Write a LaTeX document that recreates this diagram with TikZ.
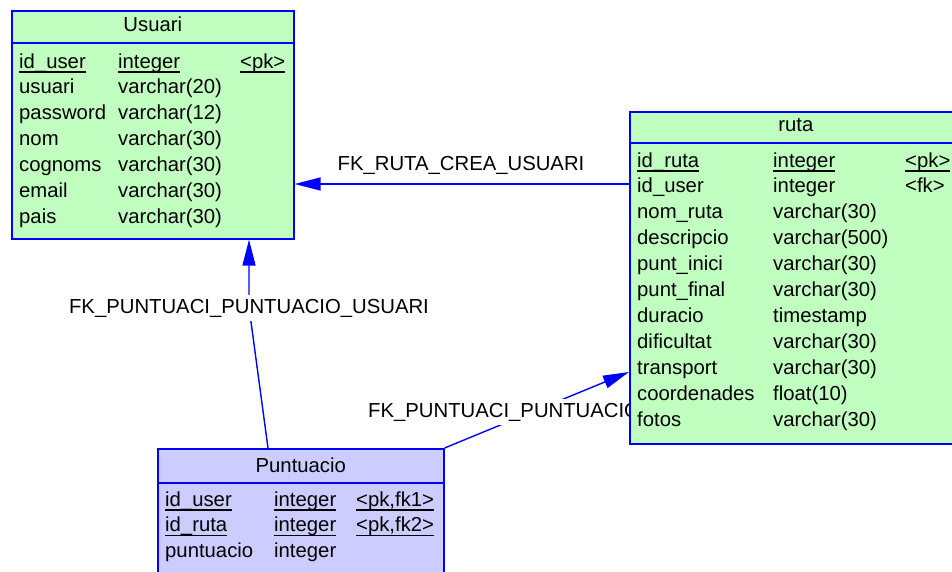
\documentclass[tikz,border=0pt]{standalone}
\usepackage{fontspec}
\setmainfont{Liberation Sans}
\usetikzlibrary{positioning,arrows.meta}

\definecolor{tablegreen}{RGB}{192,255,192}
\definecolor{tablelilac}{RGB}{204,204,255}
\definecolor{linkblue}{RGB}{0,0,255}

% underlined key columns, same offset for every word
\newcommand{\keyul}[1]{\setbox0\hbox{#1}\rlap{\rule[-4.5pt]{\wd0}{1.4pt}}\box0}

\pgfdeclarelayer{background}
\pgfsetlayers{background,main}

\begin{document}
\begin{tikzpicture}[x=1pt, y=-1pt,
        font=\fontsize{20.3}{24}\selectfont,
        node distance=25.9pt,
        entitybox/.style={rectangle, draw=linkblue, line width=1.6pt, anchor=north west, inner sep=0pt},
        entityline/.style={draw=linkblue, line width=1.6pt},
        title/.style={anchor=base, inner sep=0pt},
        field/.style={anchor=base west, inner sep=0pt},
        fklink/.style={draw=linkblue, line width=1.4pt, -{Triangle[length=26pt,width=13pt]}},
        fklabel/.style={anchor=base, fill=white, inner sep=4pt},
        ]
        \useasboundingbox (0,0) rectangle (952,571);
        \clip (0,0) rectangle (952,571);

        %Usuari
        \node[entitybox, fill=tablegreen, minimum width=282pt, minimum height=228pt] (usuari) at (11,10) {};
        \draw[entityline] (usuari.west |- 0,43) -- (usuari.east |- 0,43);
        \node[title] (usuarititle) at (usuari.north |- 0,31) {Usuari};
        \node[field] (u0) at (19,68) {\keyul{id\_user}};
        \node[below=of u0.base west, field] (u1) {usuari};
        \node[below=of u1.base west, field] (u2) {password};
        \node[below=of u2.base west, field] (u3) {nom};
        \node[below=of u3.base west, field] (u4) {cognoms};
        \node[below=of u4.base west, field] (u5) {email};
        \node[below=of u5.base west, field] (u6) {pais};
        \node[field] (ut0) at (118,68) {\keyul{integer}};
        \node[field] (ut1) at (ut0.base west |- u1.base) {varchar(20)};
        \node[field] (ut2) at (ut0.base west |- u2.base) {varchar(12)};
        \node[field] (ut3) at (ut0.base west |- u3.base) {varchar(30)};
        \node[field] (ut4) at (ut0.base west |- u4.base) {varchar(30)};
        \node[field] (ut5) at (ut0.base west |- u5.base) {varchar(30)};
        \node[field] (ut6) at (ut0.base west |- u6.base) {varchar(30)};
        \node[field] (uk0) at (240,68) {\keyul{<pk>}};

        %Puntuacio
        \node[entitybox, fill=tablelilac, minimum width=286pt, minimum height=140pt] (puntuacio) at (157,448) {};
        \draw[entityline] (puntuacio.west |- 0,483) -- (puntuacio.east |- 0,483);
        \node[title] (puntuaciotitle) at (puntuacio.north |- 0,472) {Puntuacio};
        \node[field] (p0) at (165,506) {\keyul{id\_user}};
        \node[below=of p0.base west, field] (p1) {\keyul{id\_ruta}};
        \node[below=of p1.base west, field] (p2) {puntuacio};
        \node[field] (pt0) at (274,506) {\keyul{integer}};
        \node[field] (pt1) at (pt0.base west |- p1.base) {\keyul{integer}};
        \node[field] (pt2) at (pt0.base west |- p2.base) {integer};
        \node[field] (pk0) at (356,506) {\keyul{<pk,fk1>}};
        \node[field] (pk1) at (pk0.base west |- p1.base) {\keyul{<pk,fk2>}};

        %ruta
        \node[entitybox, fill=tablegreen, minimum width=332pt, minimum height=332pt] (ruta) at (629,111) {};
        \draw[entityline] (ruta.west |- 0,143) -- (ruta.east |- 0,143);
        \node[title] (rutatitle) at (ruta.north |- 0,131) {ruta};
        \node[field] (r0) at (637,167) {\keyul{id\_ruta}};
        \node[below=of r0.base west, field] (r1) {id\_user};
        \node[below=of r1.base west, field] (r2) {nom\_ruta};
        \node[below=of r2.base west, field] (r3) {descripcio};
        \node[below=of r3.base west, field] (r4) {punt\_inici};
        \node[below=of r4.base west, field] (r5) {punt\_final};
        \node[below=of r5.base west, field] (r6) {duracio};
        \node[below=of r6.base west, field] (r7) {dificultat};
        \node[below=of r7.base west, field] (r8) {transport};
        \node[below=of r8.base west, field] (r9) {coordenades};
        \node[below=of r9.base west, field] (r10) {fotos};
        \node[field] (rt0) at (773,167) {\keyul{integer}};
        \node[field] (rt1) at (rt0.base west |- r1.base) {integer};
        \node[field] (rt2) at (rt0.base west |- r2.base) {varchar(30)};
        \node[field] (rt3) at (rt0.base west |- r3.base) {varchar(500)};
        \node[field] (rt4) at (rt0.base west |- r4.base) {varchar(30)};
        \node[field] (rt5) at (rt0.base west |- r5.base) {varchar(30)};
        \node[field] (rt6) at (rt0.base west |- r6.base) {timestamp};
        \node[field] (rt7) at (rt0.base west |- r7.base) {varchar(30)};
        \node[field] (rt8) at (rt0.base west |- r8.base) {varchar(30)};
        \node[field] (rt9) at (rt0.base west |- r9.base) {float(10)};
        \node[field] (rt10) at (rt0.base west |- r10.base) {varchar(30)};
        \node[field] (rk0) at (905,167) {\keyul{<pk>}};
        \node[field] (rk1) at (rk0.base west |- r1.base) {<fk>};

        %Links
        \begin{pgfonlayer}{background}
        \draw[fklink] (ruta.west |- 0,184) -- (usuari.east |- 0,184);
        \node[fklabel] (fk1label) at (461,170) {FK\_RUTA\_CREA\_USUARI};

        \coordinate (fk2bend) at (249,307);
        \draw[fklink] (puntuacio.north -| 268,0) -- (fk2bend) -- (usuari.south -| fk2bend);
        \node[fklabel] (fk2label) at (249,313) {FK\_PUNTUACI\_PUNTUACIO\_USUARI};

        \draw[fklink] (puntuacio.north east) -- (ruta.west |- 0,372);
        \node[fklabel, anchor=base west] (fk3label) at (364,417) {FK\_PUNTUACI\_PUNTUACIO};
        \end{pgfonlayer}
    \end{tikzpicture}
\end{document}
